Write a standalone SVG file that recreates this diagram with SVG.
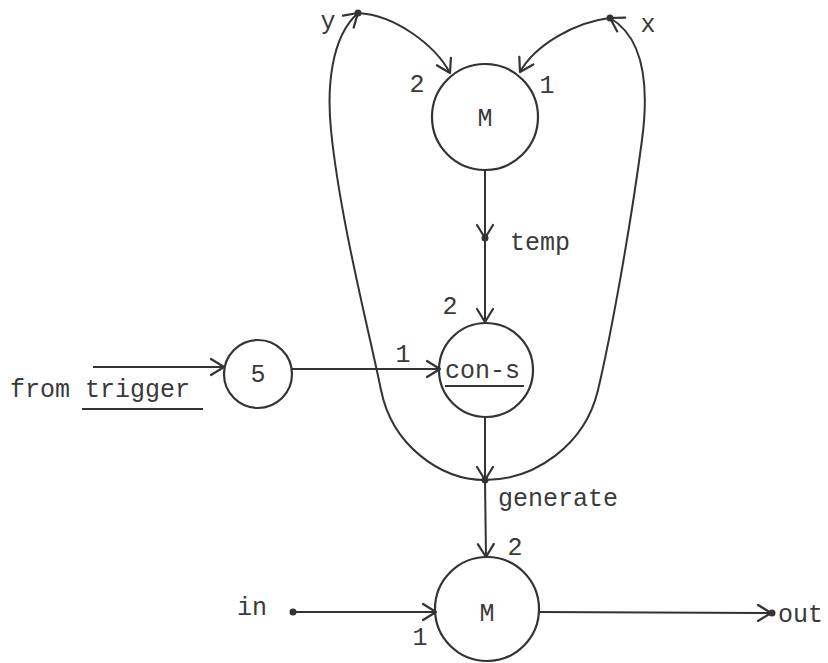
<svg xmlns="http://www.w3.org/2000/svg" width="828" height="663" viewBox="0 0 828 663">
<defs>
<marker id="chev" viewBox="-16 -10 18 20" markerWidth="18" markerHeight="20" refX="0" refY="0" orient="auto" markerUnits="userSpaceOnUse">
<path d="M-13,-8 L0,0 L-13,8" fill="none" stroke="#333" stroke-width="2.2" stroke-linecap="round" stroke-linejoin="round"/>
</marker>
</defs>
<style>
.edge{fill:none;stroke:#333;stroke-width:2;marker-end:url(#chev)}
.line{fill:none;stroke:#333;stroke-width:2}
.node{fill:none;stroke:#333;stroke-width:2.2}
.dot{fill:#333}
text{font-family:"Liberation Mono","Courier New",monospace;font-size:25px;fill:#3a3a3a}
.c{text-anchor:middle}
.ul{stroke:#333;stroke-width:2}
</style>
<rect width="828" height="663" fill="#fff"/>

<g id="connectors">
  <!-- loop from generate to y -->
  <path class="edge" d="M485,480 C440,480 392,445 381,390 C370,335 340,220 331,130 C327,90 330,38 358,13"/>
  <!-- loop from generate to x -->
  <path class="edge" d="M485,480 C535,480 585,445 598,390 C611,335 630,230 642,140 C648,95 648,40 610,18"/>
  <!-- y to M top port 2 -->
  <path class="edge" d="M358,13 C395,15 435,45 450,73"/>
  <!-- x to M top port 1 -->
  <path class="edge" d="M610,18 C575,22 535,45 520,72"/>
  <!-- M to temp -->
  <path class="edge" d="M485,170 L485,238"/>
  <!-- temp to con-s port 2 -->
  <path class="edge" d="M485,238 L485,322"/>
  <!-- trigger to 5 -->
  <path class="edge" d="M93,367 L224,367"/>
  <!-- 5 to con-s port 1 -->
  <path class="edge" d="M292,369 L440,369"/>
  <!-- con-s to generate -->
  <path class="edge" d="M485,417 L485,480"/>
  <!-- generate to bottom M port 2 -->
  <path class="edge" d="M485,480 L486,557"/>
  <!-- in to bottom M port 1 -->
  <path class="edge" d="M293,612 L436,612"/>
  <!-- bottom M to out -->
  <path class="edge" d="M539,612 L771,613"/>
</g>

<g id="point-y">
  <circle class="dot" cx="358" cy="13" r="3.5"/>
  <text class="c" x="328" y="29">y</text>
</g>
<g id="point-x">
  <circle class="dot" cx="610" cy="18" r="3.5"/>
  <text class="c" x="648" y="32">x</text>
</g>

<g id="node-M-top">
  <circle class="node" cx="485" cy="117" r="53"/>
  <text class="c" x="485" y="126">M</text>
  <text class="c" x="417" y="92">2</text>
  <text class="c" x="547" y="93">1</text>
</g>

<g id="point-temp">
  <circle class="dot" cx="485" cy="238" r="3.5"/>
  <text x="510" y="250">temp</text>
</g>

<g id="node-cons">
  <circle class="node" cx="486" cy="370" r="47"/>
  <text x="445" y="378">con-s</text>
  <line class="ul" x1="445" y1="386" x2="524" y2="386"/>
  <text class="c" x="450" y="314">2</text>
  <text class="c" x="403" y="362">1</text>
</g>

<g id="node-5">
  <circle class="node" cx="258" cy="374" r="34"/>
  <text class="c" x="258" y="382">5</text>
</g>

<g id="label-trigger">
  <text x="10" y="397">from trigger</text>
  <line class="ul" x1="82" y1="409" x2="203" y2="409"/>
</g>

<g id="point-generate">
  <circle class="dot" cx="485" cy="480" r="3.5"/>
  <text x="498" y="506">generate</text>
</g>

<g id="node-M-bottom">
  <circle class="node" cx="487" cy="609" r="52"/>
  <text class="c" x="487" y="621">M</text>
  <text class="c" x="515" y="555">2</text>
  <text class="c" x="420" y="645">1</text>
</g>

<g id="point-in">
  <circle class="dot" cx="293" cy="612" r="3.5"/>
  <text x="237" y="615">in</text>
</g>

<g id="point-out">
  <circle class="dot" cx="772" cy="613" r="3.5"/>
  <text x="778" y="622">out</text>
</g>
</svg>
